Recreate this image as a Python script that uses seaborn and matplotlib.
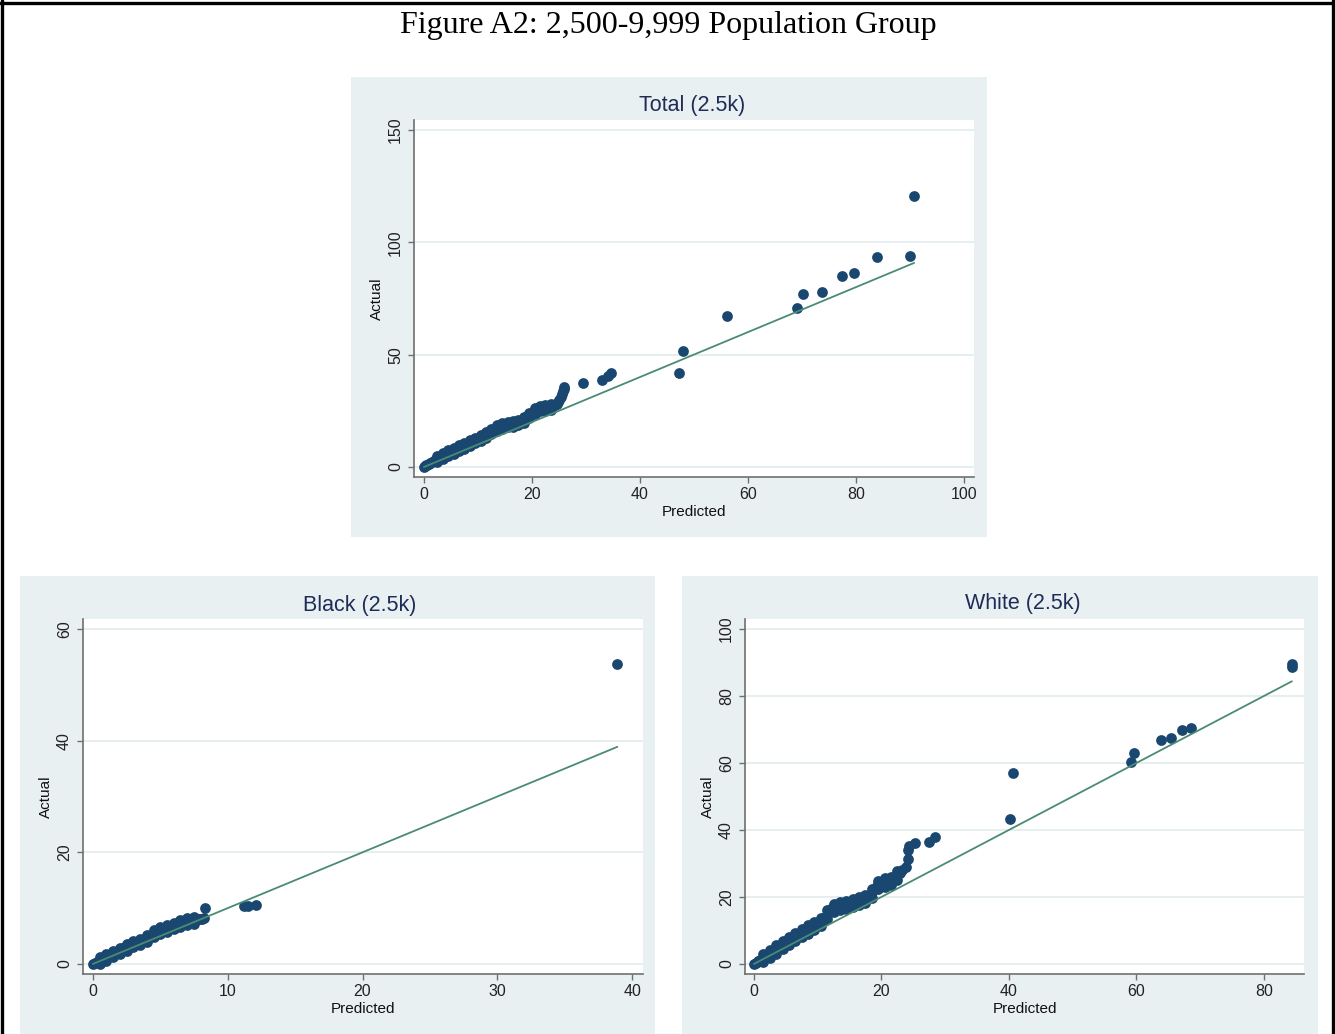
import matplotlib
matplotlib.use("Agg")
import matplotlib.pyplot as plt
from matplotlib.patches import Rectangle
from matplotlib.lines import Line2D
import numpy as np
import pandas as pd
import seaborn as sns

# ---------------- data ----------------
# Total (2.5k): dense body of places plus the larger outliers
total_pred = [0.0, 0.2, 0.4, 0.6, 0.9, 1.2, 1.5, 1.8, 2.1, 2.4, 2.7, 3.0, 3.3, 3.6, 3.9,
              4.2, 4.5, 4.8, 5.1, 5.4, 5.7, 6.0, 6.3, 6.6, 6.9, 7.2, 7.5, 7.8, 8.1, 8.4,
              8.7, 9.0, 9.3, 9.6, 9.9, 10.2, 10.5, 10.8, 11.1, 11.4, 11.7, 12.0, 12.3,
              12.6, 12.9, 13.2, 13.5, 13.8, 14.2, 14.6, 15.0, 15.4, 15.8, 16.2, 16.6,
              17.0, 17.4, 17.8, 18.2, 18.6, 19.0, 19.4, 19.8, 20.2, 20.6, 21.0, 21.4,
              21.8, 22.2, 22.6, 23.0, 23.4, 23.8, 24.2, 24.6, 24.9, 25.1, 25.3, 25.5,
              25.7, 25.9, 26.0,
              2.5, 3.5, 4.5, 5.5, 6.5, 7.5, 8.5, 9.5, 10.5, 11.5, 12.5, 13.5, 14.5, 15.5,
              16.5, 17.5, 18.5, 19.5, 20.5, 21.5, 22.5, 23.5,
              2.5, 3.5, 4.5, 5.5, 6.5, 7.5, 8.5, 9.5, 10.5, 11.5, 12.5, 13.5, 14.5, 15.5,
              16.5, 17.5, 18.5, 19.5, 20.5, 21.5, 22.5, 23.5,
              29.4, 33.0, 34.1, 34.6, 47.3, 48.0, 56.2, 69.1, 70.2, 73.8, 77.4, 79.7,
              83.9, 90.0, 90.8]
total_actual = [0.0, 0.4, 0.7, 1.0, 1.4, 1.8, 2.2, 2.6, 3.0, 3.4, 3.8, 4.2, 4.6, 5.0, 5.4,
                5.8, 6.2, 6.6, 6.9, 7.2, 7.5, 7.8, 8.2, 8.5, 8.8, 9.1, 9.5, 9.8, 10.2, 10.5,
                10.9, 11.2, 11.6, 11.9, 12.3, 12.6, 13.0, 13.4, 13.8, 14.2, 14.6, 15.1, 15.6,
                16.1, 16.6, 17.0, 17.4, 17.8, 18.2, 18.5, 18.7, 18.9, 19.0, 19.1, 19.2,
                19.4, 19.7, 20.2, 20.6, 21.0, 21.8, 22.7, 23.5, 24.3, 25.1, 25.8, 26.1,
                26.2, 26.3, 26.4, 26.5, 26.7, 27.0, 27.4, 28.0, 28.8, 29.8, 31.0, 32.3,
                33.6, 34.8, 35.5,
                2.2, 3.6, 4.9, 6.0, 7.1, 8.2, 9.3, 10.5, 11.7, 13.1, 14.6, 16.1, 17.1, 17.6,
                17.9, 18.5, 19.6, 21.6, 23.6, 24.8, 25.1, 25.5,
                4.7, 6.1, 7.4, 8.5, 9.6, 10.7, 11.8, 13.0, 14.2, 15.6, 17.1, 18.6, 19.6, 20.1,
                20.4, 21.0, 22.1, 24.1, 26.1, 27.3, 27.6, 28.0,
                37.5, 38.9, 40.5, 42.0, 42.0, 51.7, 67.0, 70.6, 76.8, 78.0, 85.1, 86.2,
                93.3, 93.8, 120.6]

# Black (2.5k)
black_pred = [0.0, 0.15, 0.3, 0.45, 0.6, 0.75, 0.9, 1.05, 1.2, 1.35, 1.5, 1.65, 1.8, 1.95,
              2.1, 2.25, 2.4, 2.55, 2.7, 2.85, 3.0, 3.15, 3.3, 3.45, 3.6, 3.75, 3.9, 4.05,
              4.2, 4.35, 4.5, 4.65, 4.8, 4.95, 5.1, 5.25, 5.4, 5.55, 5.7, 5.85, 6.0, 6.15,
              6.3, 6.45, 6.6, 6.75, 6.9, 7.05, 7.2, 7.35, 7.5, 7.65, 7.8, 7.95, 8.1, 8.25,
              0.5, 1.0, 1.5, 2.0, 2.5, 3.0, 3.5, 4.0, 4.5, 5.0, 5.5, 6.0, 6.5, 7.0, 7.5,
              0.5, 1.0, 1.5, 2.0, 2.5, 3.0, 3.5, 4.0, 4.5, 5.0, 5.5, 6.0, 6.5, 7.0, 7.5,
              8.3, 11.2, 11.5, 12.1, 38.9]
black_actual = [0.0, 0.2, 0.4, 0.6, 0.8, 1.0, 1.1, 1.3, 1.5, 1.7, 1.8, 2.0, 2.2, 2.4,
                2.6, 2.8, 3.0, 3.2, 3.4, 3.5, 3.6, 3.7, 3.8, 3.9, 4.0, 4.2, 4.4, 4.7,
                5.0, 5.2, 5.5, 5.7, 5.9, 6.0, 6.1, 6.2, 6.3, 6.4, 6.5, 6.6, 6.8, 7.0,
                7.1, 7.2, 7.3, 7.4, 7.5, 7.6, 7.7, 7.8, 7.8, 7.9, 8.0, 8.0, 8.1, 8.2,
                0.05, 0.55, 1.2, 1.7, 2.3, 3.0, 3.35, 4.0, 4.9, 5.4, 5.8, 6.2, 6.6, 6.95, 7.2,
                1.25, 1.75, 2.4, 2.9, 3.5, 4.2, 4.55, 5.2, 6.1, 6.6, 7.0, 7.4, 7.8, 8.15, 8.4,
                10.0, 10.3, 10.3, 10.6, 53.7]

# White (2.5k)
white_pred = [0.0, 0.3, 0.6, 0.9, 1.2, 1.5, 1.8, 2.1, 2.4, 2.7, 3.0, 3.3, 3.6, 3.9, 4.2,
              4.5, 4.8, 5.1, 5.4, 5.7, 6.0, 6.3, 6.6, 6.9, 7.2, 7.5, 7.8, 8.1, 8.4, 8.7,
              9.0, 9.3, 9.6, 9.9, 10.2, 10.5, 10.8, 11.1, 11.4, 11.7, 12.0, 12.3, 12.6,
              13.0, 13.4, 13.8, 14.2, 14.6, 15.0, 15.4, 15.8, 16.2, 16.6, 17.0, 17.4,
              17.8, 18.2, 18.6, 19.0, 19.3, 19.7, 20.1, 20.5, 20.9, 21.3, 21.7, 22.1,
              22.5, 22.9, 23.3,
              1.5, 2.5, 3.5, 4.5, 5.5, 6.5, 7.5, 8.5, 9.5, 10.5, 11.5, 12.5, 13.5, 14.5,
              15.5, 16.5, 17.5, 18.5, 19.5, 20.5, 21.5, 22.5,
              1.5, 2.5, 3.5, 4.5, 5.5, 6.5, 7.5, 8.5, 9.5, 10.5, 11.5, 12.5, 13.5, 14.5,
              15.5, 16.5, 17.5, 18.5, 19.5, 20.5, 21.5, 22.5,
              23.8, 24.1, 24.2, 24.4, 25.2, 27.5, 28.4, 40.2, 40.6, 59.2, 59.6, 63.8,
              65.5, 67.2, 68.5, 84.4, 84.4]
white_actual = [0.1, 0.4, 0.8, 1.1, 1.5, 1.8, 2.2, 2.6, 2.9, 3.3, 3.7, 4.1, 4.5, 4.9, 5.3,
                5.7, 6.1, 6.5, 6.8, 7.2, 7.5, 7.9, 8.2, 8.6, 8.9, 9.2, 9.6, 9.9, 10.2, 10.5,
                10.8, 11.1, 11.5, 11.8, 12.2, 12.6, 13.2, 13.9, 14.6, 15.3, 16.0, 16.6, 16.9,
                17.1, 17.3, 17.5, 17.6, 17.8, 18.0, 18.2, 18.4, 18.7, 18.9, 19.1, 19.3,
                19.6, 20.4, 21.4, 22.5, 23.4, 24.0, 24.3, 24.4, 24.5, 24.6, 25.0, 25.7,
                26.5, 27.2, 28.0,
                0.5, 1.7, 3.1, 4.4, 5.6, 6.8, 7.9, 9.0, 10.0, 11.3, 13.5, 15.5, 16.0, 16.4,
                16.9, 17.5, 18.1, 19.8, 22.4, 23.1, 23.5, 25.2,
                3.0, 4.2, 5.6, 6.9, 8.1, 9.3, 10.4, 11.5, 12.5, 13.8, 16.0, 18.0, 18.5, 18.9,
                19.4, 20.0, 20.6, 22.3, 24.9, 25.6, 26.0, 27.7,
                29.0, 31.2, 34.1, 35.1, 36.1, 36.4, 37.9, 43.4, 56.9, 60.2, 62.9, 66.9,
                67.4, 69.9, 70.4, 88.7, 89.6]

panel_titles = ["Total (2.5k)", "Black (2.5k)", "White (2.5k)"]
total_xticks, total_yticks = [0, 20, 40, 60, 80, 100], [0, 50, 100, 150]
black_xticks, black_yticks = [0, 10, 20, 30, 40], [0, 20, 40, 60]
white_xticks, white_yticks = [0, 20, 40, 60, 80], [0, 20, 40, 60, 80, 100]

# ---------------- style ----------------
sns.set_style("white")
plt.rcParams["font.family"] = ["Liberation Sans", "DejaVu Sans"]

REGION = "#e9f0f2"
GRID = "#e7eef0"
NAVY = "#1a476f"
FIT = "#4a8b74"
TITLE = "#1f2c57"
AXIS = "#6f6f6f"

W, H = 1335, 1034
fig = plt.figure(figsize=(W / 100, H / 100), dpi=100)
fig.patch.set_facecolor("white")


def fx(px):
    return px / W


def fy(py):
    return 1 - py / H


def panel(bg, box, title, title_xy, pred, actual, xticks, yticks, xlim, ylim):
    # light graph region behind the plot area
    x0, y0, x1, y1 = bg
    fig.patches.append(Rectangle((fx(x0), fy(y1)), fx(x1) - fx(x0), fy(y0) - fy(y1),
                                 transform=fig.transFigure, facecolor=REGION,
                                 edgecolor="none", zorder=-1))
    l, t, r, b = box
    ax = fig.add_axes([fx(l), fy(b), fx(r) - fx(l), fy(t) - fy(b)])
    ax.set_facecolor("white")
    df = pd.DataFrame({"Predicted": pred, "Actual": actual})
    sns.scatterplot(data=df, x="Predicted", y="Actual", ax=ax, color=NAVY, s=60,
                    linewidth=0, alpha=1, zorder=3)
    fit = df.sort_values("Predicted")
    sns.lineplot(x=fit["Predicted"].to_numpy(), y=fit["Predicted"].to_numpy(), ax=ax,
                 color=FIT, lw=1.3, zorder=4, estimator=None, sort=False)
    ax.set_xlim(*xlim)
    ax.set_ylim(*ylim)
    ax.set_xticks(xticks)
    ax.set_yticks(yticks)
    ax.yaxis.grid(True, color=GRID, lw=1.4, zorder=0)
    ax.xaxis.grid(False)
    ax.set_axisbelow(True)
    for side in ("top", "right"):
        ax.spines[side].set_visible(False)
    for side in ("left", "bottom"):
        ax.spines[side].set_color(AXIS)
        ax.spines[side].set_linewidth(1.2)
    ax.tick_params(axis="both", direction="out", length=4.5, width=1.0, color=AXIS,
                   labelsize=11.5, labelcolor="#222222", pad=3,
                   left=True, bottom=True)
    ax.tick_params(axis="y", labelrotation=90, pad=3.5)
    for lab in ax.get_yticklabels():
        lab.set_va("center")
    ax.set_xlabel("Predicted", fontsize=11, color="#111111", labelpad=2)
    ax.set_ylabel("Actual", fontsize=11, color="#111111", labelpad=2.5)
    fig.text(fx(title_xy[0]), fy(title_xy[1]), title, ha="center", va="center",
             fontsize=15.5, color=TITLE)
    return ax


panel((351, 77, 987, 537), (414, 120, 974, 477), panel_titles[0], (692, 105),
      total_pred, total_actual, total_xticks, total_yticks, (-1.85, 101.9), (-4.45, 154.4))
panel((20, 576, 655, 1034), (83, 619, 643, 974), panel_titles[1], (360, 605),
      black_pred, black_actual, black_xticks, black_yticks, (-0.73, 40.8), (-1.8, 61.8))
panel((682, 576, 1318, 1034), (745, 619, 1304, 974), panel_titles[2], (1023, 604),
      white_pred, white_actual, white_xticks, white_yticks, (-1.4, 86.3), (-3.0, 103.0))

fig.text(fx(668), fy(25), "Figure A2: 2,500-9,999 Population Group", ha="center",
         va="center", fontsize=23, family=["Liberation Serif", "DejaVu Serif"],
         color="black")

# page frame on the top, left and right edges
for xs, ys in (([0, 1], [fy(2.5), fy(2.5)]),
               ([fx(2), fx(2)], [0, 1]),
               ([fx(1333), fx(1333)], [0, 1])):
    fig.add_artist(Line2D(xs, ys, transform=fig.transFigure, color="black", lw=2.4))

fig.savefig("out.png", dpi=100)
